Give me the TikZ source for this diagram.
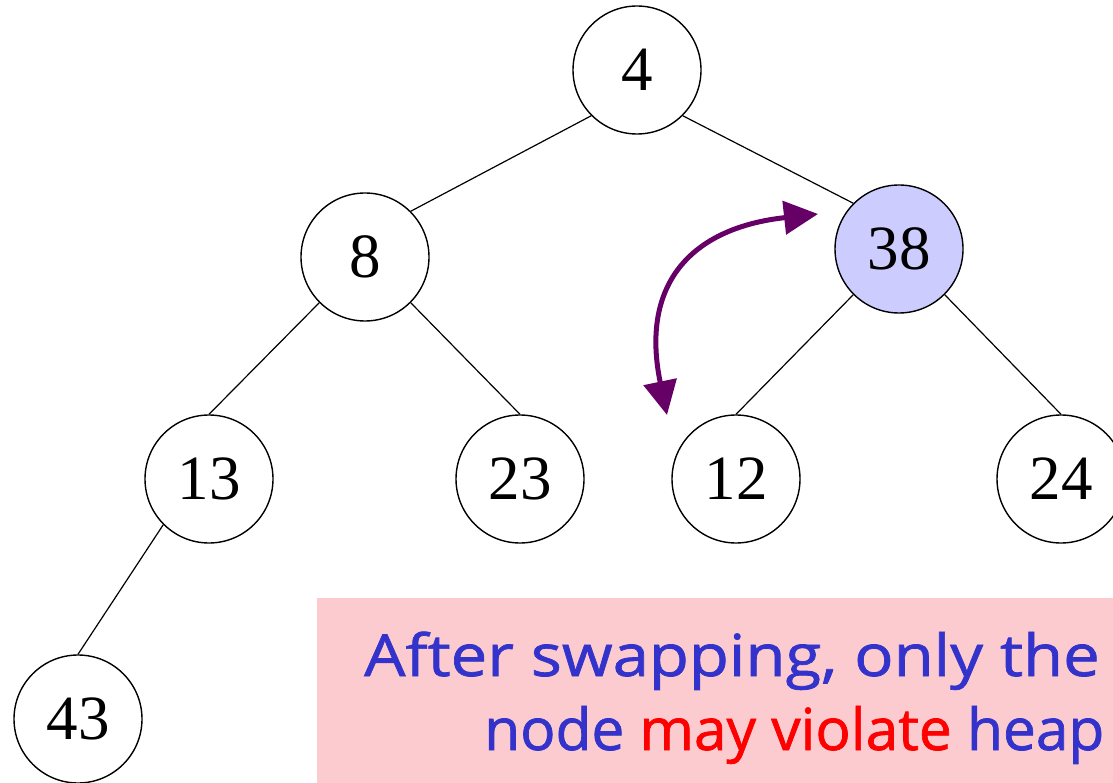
\documentclass[tikz,border=0pt]{standalone}
\usepackage{fontspec}
\setmainfont{Liberation Serif}
\newfontfamily\notefont[FakeStretch=1.125,FakeBold=1.2]{Open Sans}
\newfontfamily\notefontnarrow[FakeStretch=1.01,FakeBold=1.2]{Open Sans}
\usetikzlibrary{arrows.meta}
\definecolor{swapcol}{HTML}{660066}
\definecolor{notebg}{HTML}{FCCBD0}
\definecolor{noteblue}{HTML}{3333CC}
\definecolor{hilite}{HTML}{CCCCFF}
\begin{document}
\begin{tikzpicture}[x=1pt,y=-1pt,
  key/.style={circle,draw,line width=1.4pt,minimum size=128pt,inner sep=0pt,
    font=\fontsize{63}{63}\selectfont,fill=white},
  edge/.style={line width=1.2pt},
  swaparrow/.style={draw=swapcol,line width=5pt,
    {Triangle[length=34pt,width=33pt]}-{Triangle[length=34pt,width=33pt]}},
  note/.style={anchor=base west,text=noteblue,inner sep=0pt,
    font=\notefont\fontsize{58}{78}\selectfont}]
\useasboundingbox (0,0) rectangle (1113,783);
\clip (0,0) rectangle (1113,783);

% note box behind everything
\fill[notebg] (317,598) rectangle (1140,800);

% heap nodes
\node[key] (n4)  at (637,70)  {4};
\node[key] (n8)  at (365,257) {8};
\node[key,fill=hilite] (n38) at (899,249) {38};
\node[key] (n13) at (209,479) {13};
\node[key] (n23) at (520,479) {23};
\node[key] (n12) at (736,479) {12};
\node[key] (n24) at (1061,479) {24};
\node[key] (n43) at (78,719)  {43};

% tree edges
\draw[edge] (n4.south west) -- (n8.north east);
\draw[edge] (n4.south east) -- (n38.north west);
\draw[edge] (n8.south west) -- (n13.north);
\draw[edge] (n8.south east) -- (n23.north);
\draw[edge] (n38.south west) -- (n12.north);
\draw[edge] (n38.south east) -- (n24.north);
\draw[edge] (n13.south west) -- (n43.north);

% swap arrow between 38 and 12
\coordinate (swapA) at (667,415);
\coordinate (swapB) at (818,214);
\path[swaparrow] (swapA) .. controls (640,285) and (690,228) .. (swapB);

% note text
\node[note] (line1) at (364,676) {After swapping, only the};
\node[note,font=\notefontnarrow\fontsize{58}{78}\selectfont] (line2) at (484,750)
  {node \textcolor{red}{may violate} heap};
\end{tikzpicture}
\end{document}
